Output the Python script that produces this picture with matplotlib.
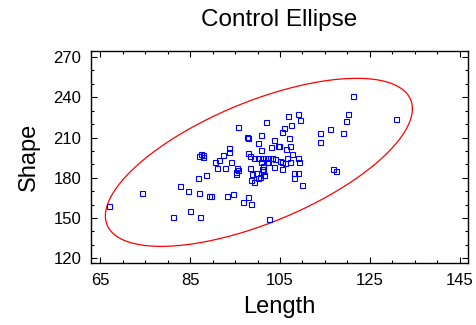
import numpy as np
import matplotlib
matplotlib.use('Agg')
import matplotlib.pyplot as plt
from matplotlib.ticker import MultipleLocator

plt.rcParams['font.family'] = ['Liberation Sans', 'DejaVu Sans']

# values
length = [66.96, 74.24, 81.08, 82.77, 85.0, 84.55, 86.94, 87.23, 86.71, 88.5,
          86.87, 87.32, 87.76, 87.9, 89.1, 89.68, 90.43, 90.88, 91.32, 92.35,
          93.55, 93.69, 94.0, 93.1, 94.58, 92.8, 95.69, 95.4, 95.7, 95.1,
          95.1, 97.6, 97.9, 97.78, 98.23, 98.23, 99.25, 100.15, 100.9, 101.64,
          102.37, 103.13, 103.86, 100.75, 102.08, 102.37, 104.9, 105.36, 106.1, 107.14,
          109.05, 109.2, 101.19, 101.04, 101.19, 103.57, 105.49, 108.16, 109.05, 108.03,
          109.8, 99.7, 98.67, 100.45, 100.15, 98.52, 99.25, 101.35, 101.93, 106.69,
          109.05, 109.36, 107.43, 105.93, 105.36, 100.75, 100.15, 103.57, 106.98, 102.97,
          104.47, 104.75, 107.27, 106.38, 100.75, 107.72, 106.47, 97.78, 96.8, 98.59,
          102.46, 121.17, 120.12, 119.68, 116.11, 119.08, 113.95, 113.82, 130.88, 116.72,
          117.45]
shape = [158.6, 169.0, 150.4, 173.5, 154.9, 170.0, 168.3, 150.9, 179.9, 181.9,
         196.1, 197.6, 196.6, 195.5, 166.3, 166.3, 191.4, 187.3, 193.1, 196.6,
         202.5, 199.0, 192.1, 166.3, 167.8, 187.6, 217.9, 187.6, 185.6, 184.6,
         183.1, 210.2, 209.8, 198.5, 196.1, 187.6, 194.6, 195.1, 195.1, 195.1,
         194.6, 194.6, 194.3, 191.6, 192.1, 191.6, 192.6, 191.6, 191.1, 192.1,
         195.1, 191.6, 189.1, 186.6, 184.7, 188.1, 186.2, 183.6, 183.6, 179.7,
         174.7, 183.2, 182.7, 180.6, 179.7, 178.2, 176.7, 181.7, 221.4, 225.8,
         227.9, 223.4, 219.4, 216.9, 214.0, 211.9, 206.0, 208.5, 210.0, 203.0,
         203.5, 203.5, 204.0, 201.5, 200.5, 197.5, 194.6, 165.3, 161.8, 160.8,
         149.4, 241.3, 227.3, 222.3, 216.4, 213.7, 213.2, 206.3, 223.6, 186.4,
         185.4]

# control ellipse: centre, half extents, correlation
ell_center = [100.3, 191.5]
ell_half_x = 34.2
ell_half_y = 62.65
ell_rho = 0.637

cov = np.array([[ell_half_x ** 2, ell_rho * ell_half_x * ell_half_y],
                [ell_rho * ell_half_x * ell_half_y, ell_half_y ** 2]])
chol = np.linalg.cholesky(cov)
t = np.linspace(0, 2 * np.pi, 400)
ell = np.array(ell_center)[:, None] + chol @ np.vstack([np.cos(t), np.sin(t)])

fig = plt.figure(figsize=(4.77, 3.25), dpi=100)
ax = fig.add_axes([0.1908, 0.191, 0.7904, 0.652])

ax.plot(ell[0], ell[1], color='#ff0000', lw=0.9)
ax.plot(length, shape, ls='none', marker='s', ms=3.6, mfc='none', mec='#0000ff', mew=0.8)

ax.set_xlim(62.9, 146.9)
ax.set_ylim(116.5, 274.5)
ax.set_xticks([65, 85, 105, 125, 145])
ax.xaxis.set_minor_locator(MultipleLocator(5))
ax.set_yticks([120, 150, 180, 210, 240, 270])
ax.yaxis.set_minor_locator(MultipleLocator(10))
ax.tick_params(which='both', direction='in', top=True, right=True, width=0.8, labelsize=12)
ax.tick_params(which='major', length=4.5, pad=7)
ax.tick_params(which='minor', length=2.5)
for s in ax.spines.values():
    s.set_linewidth(1.0)

ax.set_title('Control Ellipse', fontsize=17.5, pad=18)
ax.set_xlabel('Length', fontsize=17, labelpad=6)
ax.set_ylabel('Shape', fontsize=17, labelpad=10)

fig.savefig('out.png', dpi=100)
